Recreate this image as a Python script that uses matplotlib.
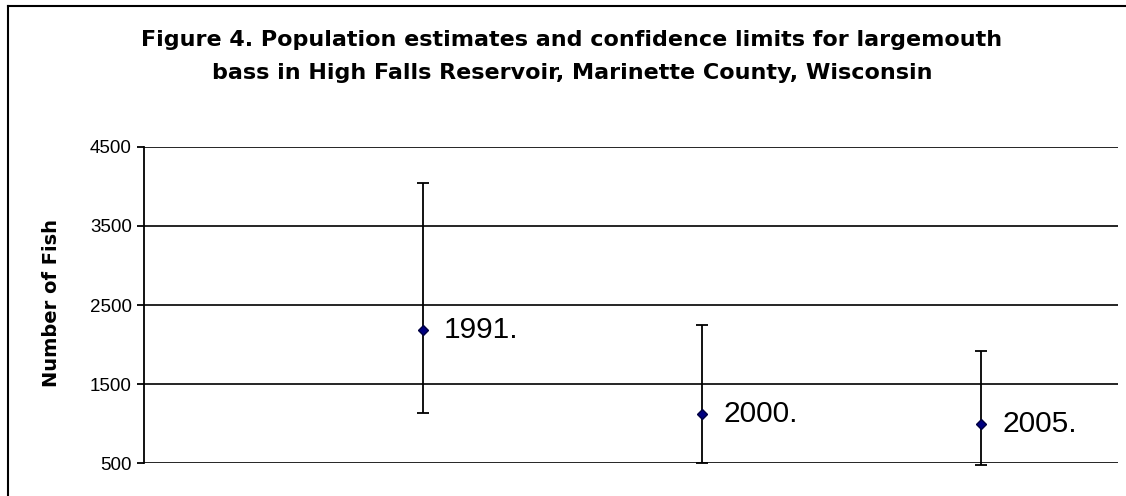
import matplotlib.pyplot as plt
from matplotlib.lines import Line2D

plt.rcParams['font.family'] = ['Liberation Sans', 'DejaVu Sans']

# data
years = ['1991.', '2000.', '2005.']
x_pos = [1, 2, 3]
estimate = [2180, 1125, 1000]
upper = [4045, 2247, 1915]
lower = [1140, 500, 480]
y_ticks = [500, 1500, 2500, 3500, 4500]

W, H = 1126, 496
fig = plt.figure(figsize=(W / 100, H / 100), dpi=100)
ax = fig.add_axes([144.3 / W, 1 - 463.3 / H, (1118 - 144.3) / W, (463.3 - 146.7) / H])

err_lo = [e - l for e, l in zip(estimate, lower)]
err_hi = [u - e for e, u in zip(estimate, upper)]
ax.errorbar(x_pos, estimate, yerr=[err_lo, err_hi], fmt='none',
            ecolor='black', elinewidth=1.3, capsize=4.5, capthick=1.3,
            zorder=3, clip_on=False)
ax.plot(x_pos, estimate, linestyle='none', marker='D', markersize=5.5,
        markerfacecolor='#000080', markeredgecolor='#000040', zorder=4)

for x, y, lab in zip(x_pos, estimate, years):
    ax.annotate(lab, (x, y), xytext=(15, 0), textcoords='offset points',
                fontsize=21.5, va='center', ha='left')

ax.set_ylim(500, 4500)
ax.set_xlim(0, 3.49)
ax.set_yticks(y_ticks)
ax.set_yticklabels([str(t) for t in y_ticks], fontsize=13.5)
ax.set_xticks([])
ax.yaxis.grid(True, color='black', linewidth=1.2)
ax.set_axisbelow(True)
for s in ['top', 'right', 'bottom']:
    ax.spines[s].set_visible(False)
ax.spines['left'].set_linewidth(1.3)
ax.tick_params(axis='y', direction='out', length=5, width=1.3, pad=4)

# the reference text is wide-set; DejaVu Sans Bold matches it better
ax.set_ylabel('Number of Fish', fontsize=14, fontweight='bold',
              family='DejaVu Sans', va='center')
ax.yaxis.set_label_coords(52 / W, 1 - 303 / H, transform=fig.transFigure)

title_kw = dict(ha='center', va='center', fontsize=16, fontweight='bold',
                family='DejaVu Sans')
fig.text(572 / W, 1 - 40 / H,
         'Figure 4. Population estimates and confidence limits for largemouth',
         **title_kw)
fig.text(572 / W, 1 - 73 / H,
         'bass in High Falls Reservoir, Marinette County, Wisconsin',
         **title_kw)

# outer chart frame (left and top edges only, rest cropped)
fig.add_artist(Line2D([8 / W, 8 / W], [0, 1 - 5.5 / H],
                      transform=fig.transFigure, color='black', lw=1.5))
fig.add_artist(Line2D([8 / W, 1], [1 - 5.5 / H, 1 - 5.5 / H],
                      transform=fig.transFigure, color='black', lw=1.5))

plt.savefig('out.png', dpi=100)
